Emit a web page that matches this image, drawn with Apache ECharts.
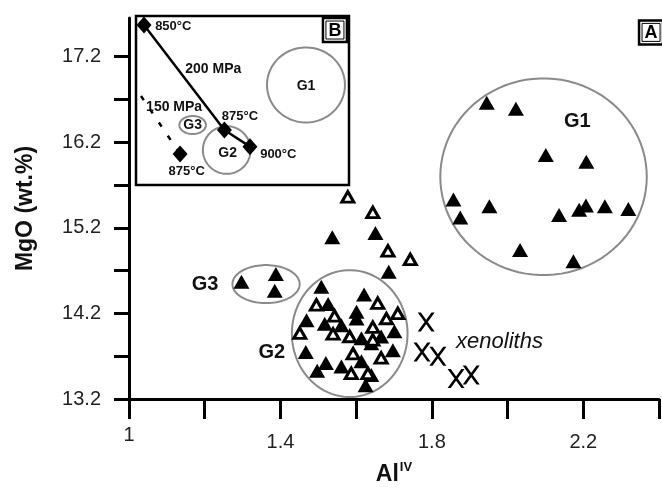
<!DOCTYPE html>
<html>
<head>
<meta charset="utf-8">
<script src="https://cdn.jsdelivr.net/npm/echarts@6/dist/echarts.min.js"></script>
<style>
html,body{margin:0;padding:0;background:#fff;}
#chart{width:662px;height:492px;}
</style>
</head>
<body>
<div id="chart"></div>
<script>
// ---------- main diagram data (AlIV, MgO wt.%) ----------
const xTickLabels = [1, 1.4, 1.8, 2.2];
const yTickLabels = [13.2, 14.2, 15.2, 16.2, 17.2];

const g1Filled = [[1.945,16.66],[2.022,16.59],[2.101,16.05],[2.208,15.97],[1.857,15.53],[1.952,15.45],[1.875,15.32],[2.136,15.35],[2.189,15.41],[2.207,15.46],[2.257,15.45],[2.319,15.42],[2.033,14.94],[2.174,14.81]];
const g3Filled = [[1.297,14.569],[1.388,14.659],[1.385,14.464]];
const midFilled = [[1.537,15.09],[1.651,15.14],[1.686,14.685]];
const midOpen = [[1.578,15.56],[1.644,15.38],[1.684,14.93],[1.743,14.83]];
const g2Filled = [[1.508,14.51],[1.621,14.42],[1.526,14.31],[1.469,14.12],[1.601,14.22],[1.601,14.14],[1.517,14.08],[1.561,14.06],[1.701,13.99],[1.614,13.91],[1.666,13.93],[1.640,13.85],[1.467,13.75],[1.697,13.77],[1.520,13.62],[1.497,13.53],[1.561,13.58],[1.614,13.64],[1.640,13.48],[1.625,13.36]];
const g2Open = [[1.495,14.30],[1.657,14.32],[1.710,14.20],[1.543,14.17],[1.680,14.14],[1.451,13.97],[1.539,13.96],[1.583,13.93],[1.644,14.04],[1.644,13.89],[1.592,13.73],[1.666,13.68],[1.587,13.50],[1.631,13.50]];
const xenoliths = [[1.785,14.10],[1.774,13.75],[1.816,13.70],[1.864,13.44],[1.904,13.48]];
// group outlines: centre x, centre y, radius x, radius y
const groupOutlines = [[2.095,15.796,0.2727,1.149],[1.583,13.964,0.1528,0.741],[1.362,14.542,0.0888,0.222]];
const groupLabels = [[2.184,16.44,'G1'],[1.201,14.542,'G3'],[1.377,13.748,'G2']];
const xenolithLabel = [[1.864,13.869,'xenoliths']];
const panelA = [[2.379,17.482,'A']];

// ---------- inset (B) schematic, arbitrary 0-100 units ----------
const inset200 = [[3.76,94.7],[41.5,32.5],[53.5,22.7]];
const inset150 = [[2.35,52.7],[20.7,18.3]];
const insetDiamonds = [[3.76,94.7],[41.5,32.5],[53.5,22.7],[20.7,18.3]];
const insetOutlines = [[79.8,59.2,18.3,22.2],[26.6,35.5,6.24,5.33],[42.6,20.7,11.2,14.1]];
const insetTempLabels = [[17.5,94.1,'850°C'],[48.8,40.8,'875°C'],[66.8,17.8,'900°C'],[23.8,8.3,'875°C']];
const insetPressureLabels = [[36.3,68.5,'200 MPa'],[17.9,46.3,'150 MPa']];
const insetGroupLabels = [[79.8,58.6,'G1'],[26.6,35.5,'G3'],[43.0,19.1,'G2']];
const panelB = [[93.4,91.7,'B']];

const FONT = '"Liberation Sans", Arial, sans-serif';

function ellipseItem(params, api) {
  const cx = api.value(0), cy = api.value(1), rx = api.value(2), ry = api.value(3);
  const pts = [];
  for (let i = 0; i < 90; i++) {
    const t = i / 90 * Math.PI * 2;
    pts.push(api.coord([cx + rx * Math.cos(t), cy + ry * Math.sin(t)]));
  }
  return {type: 'polygon', shape: {points: pts}, style: {fill: 'none', stroke: '#8a8a8a', lineWidth: 2}};
}
function textRenderer(size, weight, style, align) {
  return function (params, api) {
    const p = api.coord([api.value(0), api.value(1)]);
    return {type: 'text', x: p[0], y: p[1], style: {
      text: api.value(2), fill: '#111', fontFamily: FONT, fontSize: size,
      fontWeight: weight, fontStyle: style, align: align || 'center', verticalAlign: 'middle'}};
  };
}
function boxRenderer(params, api) {
  const p = api.coord([api.value(0), api.value(1)]);
  return {type: 'group', children: [
    {type: 'rect', shape: {x: p[0] - 12, y: p[1] - 12, width: 24, height: 24}, style: {fill: '#fff', stroke: '#000', lineWidth: 2.5}},
    {type: 'rect', shape: {x: p[0] - 9, y: p[1] - 9, width: 18, height: 18}, style: {fill: 'none', stroke: '#000', lineWidth: 1}},
    {type: 'text', x: p[0], y: p[1] + 1, style: {text: api.value(2), fill: '#000', fontFamily: FONT, fontSize: 18, fontWeight: 'bold', align: 'center', verticalAlign: 'middle'}}
  ]};
}
function pickLabel(list, v, fmt) {
  for (const t of list) if (Math.abs(t - v) < 1e-6) return fmt(t);
  return '';
}

const chart = echarts.init(document.getElementById('chart'), null, {renderer: 'canvas'});
const xSymbol = 'path://M0,0 L3,0 L16,18 L13,18 Z M13,0 L16,0 L3,18 L0,18 Z';

chart.setOption({
  animation: false,
  backgroundColor: '#fff',
  textStyle: {fontFamily: FONT},
  grid: [
    {left: 129, right: 2, top: 18, bottom: 93, containLabel: false},
    {left: 136, top: 16, width: 213, height: 169, show: true, backgroundColor: '#fff', borderColor: '#000', borderWidth: 2.5, z: 5}
  ],
  xAxis: [
    {type: 'value', gridIndex: 0, min: 1, max: 2.4, interval: 0.2,
     axisLine: {show: true, lineStyle: {color: '#000', width: 3}},
     axisTick: {show: true, inside: false, length: 20, lineStyle: {color: '#000', width: 3}},
     splitLine: {show: false},
     axisLabel: {margin: 26, color: '#222', fontSize: 20, fontFamily: FONT,
       formatter: v => pickLabel(xTickLabels, v, t => (Math.abs(t - 1) < 1e-6 ? '{a|' : '{b|') + String(t) + '}'),
       rich: {a: {fontSize: 20, color: '#222', fontFamily: FONT}, b: {fontSize: 20, color: '#222', fontFamily: FONT, padding: [7, 0, 0, 0]}}},
     name: '{a|Al}{s|IV}', nameLocation: 'middle', nameGap: 62,
     nameTextStyle: {rich: {
       a: {fontSize: 23, fontWeight: 'bold', color: '#111', fontFamily: FONT, lineHeight: 28},
       s: {fontSize: 13, fontWeight: 'bold', color: '#111', fontFamily: FONT, verticalAlign: 'top', lineHeight: 28, padding: [0, 0, 12, 1]}}}
    },
    {type: 'value', gridIndex: 1, min: 0, max: 100, show: false}
  ],
  yAxis: [
    {type: 'value', gridIndex: 0, min: 13.2, max: 17.65, interval: 0.5,
     axisLine: {show: true, lineStyle: {color: '#000', width: 3}},
     axisTick: {show: true, inside: false, length: 15, lineStyle: {color: '#000', width: 3}},
     splitLine: {show: false},
     axisLabel: {margin: 28, color: '#222', fontSize: 20, fontFamily: FONT, showMaxLabel: false,
       formatter: v => pickLabel(yTickLabels, v, t => t.toFixed(1))},
     name: 'MgO (wt.%)', nameLocation: 'middle', nameGap: 92, nameRotate: 90,
     nameTextStyle: {fontSize: 23, fontWeight: 'bold', color: '#111', fontFamily: FONT}
    },
    {type: 'value', gridIndex: 1, min: 0, max: 100, show: false}
  ],
  series: [
    {type: 'custom', xAxisIndex: 0, yAxisIndex: 0, renderItem: ellipseItem, data: groupOutlines, z: 1, silent: true},
    {type: 'scatter', xAxisIndex: 0, yAxisIndex: 0, symbol: 'triangle', symbolSize: [16, 14], itemStyle: {color: '#000', opacity: 1},
     data: [].concat(g1Filled, g3Filled, midFilled, g2Filled), z: 3},
    {type: 'scatter', xAxisIndex: 0, yAxisIndex: 0, symbol: 'triangle', symbolSize: [12, 10.5], itemStyle: {color: '#fff', borderColor: '#000', borderWidth: 3, opacity: 1},
     data: [].concat(midOpen, g2Open), z: 4},
    {type: 'scatter', xAxisIndex: 0, yAxisIndex: 0, symbol: xSymbol, symbolSize: [17, 19], itemStyle: {color: '#000', opacity: 1},
     data: xenoliths, z: 3},
    {type: 'custom', xAxisIndex: 0, yAxisIndex: 0, renderItem: textRenderer(20, 'bold', 'normal'), data: groupLabels, z: 6, silent: true},
    {type: 'custom', xAxisIndex: 0, yAxisIndex: 0, renderItem: textRenderer(22, 'normal', 'italic', 'left'), data: xenolithLabel, z: 6, silent: true},
    {type: 'custom', xAxisIndex: 0, yAxisIndex: 0, renderItem: boxRenderer, data: panelA, z: 6, silent: true},

    // inset B
    {type: 'custom', xAxisIndex: 1, yAxisIndex: 1, renderItem: ellipseItem, data: insetOutlines, z: 10, silent: true},
    {type: 'line', xAxisIndex: 1, yAxisIndex: 1, data: inset200, showSymbol: false, symbol: 'none', lineStyle: {color: '#000', width: 2.5}, z: 11, silent: true},
    {type: 'line', xAxisIndex: 1, yAxisIndex: 1, data: inset150, showSymbol: false, symbol: 'none', lineStyle: {color: '#000', width: 2.5, type: [5, 11]}, z: 11, silent: true},
    {type: 'scatter', xAxisIndex: 1, yAxisIndex: 1, symbol: 'diamond', symbolSize: [15, 17], itemStyle: {color: '#000', opacity: 1}, data: insetDiamonds, z: 12},
    {type: 'custom', xAxisIndex: 1, yAxisIndex: 1, renderItem: textRenderer(13, 'bold', 'normal'), data: insetTempLabels, z: 13, silent: true},
    {type: 'custom', xAxisIndex: 1, yAxisIndex: 1, renderItem: textRenderer(14, 'bold', 'normal'), data: insetPressureLabels, z: 13, silent: true},
    {type: 'custom', xAxisIndex: 1, yAxisIndex: 1, renderItem: textRenderer(14, 'bold', 'normal'), data: insetGroupLabels, z: 13, silent: true},
    {type: 'custom', xAxisIndex: 1, yAxisIndex: 1, renderItem: boxRenderer, data: panelB, z: 13, silent: true}
  ]
});
</script>
</body>
</html>
